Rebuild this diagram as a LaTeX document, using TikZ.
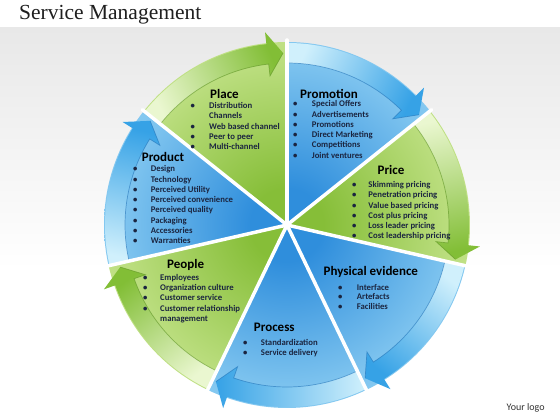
\documentclass[tikz,border=0pt]{standalone}
\usepackage{fontspec}
\newfontfamily\carl{Carlito}
\newfontfamily\ttlserif{Liberation Serif}
\definecolor{gIn}{HTML}{86BE38}
\definecolor{gOut}{HTML}{DDF2AC}
\definecolor{bIn}{HTML}{2F8EDC}
\definecolor{bOut}{HTML}{B0E6FB}
\colorlet{gMid}{gIn!40!gOut}
\colorlet{bMid}{bIn!40!bOut}
\definecolor{gHead}{HTML}{82BE36}
\definecolor{gTail}{HTML}{EAF7D0}
\definecolor{bHead}{HTML}{36A2E6}
\definecolor{bTail}{HTML}{D0F0FC}
\definecolor{gLine}{HTML}{5E9424}
\definecolor{bLine}{HTML}{2474B8}
\definecolor{itemcol}{HTML}{1B2540}
\pgfdeclareradialshading{grad}{\pgfpoint{0bp}{0bp}}{color(0bp)=(gIn); color(5bp)=(gIn); color(22bp)=(gMid); color(42bp)=(gOut); color(50bp)=(gOut)}
\pgfdeclareradialshading{brad}{\pgfpoint{0bp}{0bp}}{color(0bp)=(bIn); color(5bp)=(bIn); color(22bp)=(bMid); color(42bp)=(bOut); color(50bp)=(bOut)}
\newcommand\bul[1]{\makebox[#1][l]{\textbullet}}
\tikzset{
  ttl/.style={font=\carl\bfseries\fontsize{13}{15}\selectfont, text=black, inner sep=0pt, anchor=base},
  itm/.style={font=\carl\bfseries\fontsize{8.7}{10.4}\selectfont, text=itemcol, inner sep=0pt, anchor=base west},
  sepline/.style={white, line width=3.5pt, line cap=round},
}
\begin{document}
\begin{tikzpicture}[x=1pt,y=1pt]
\useasboundingbox (0,0) rectangle (560,420);
\fill[white] (0,0) rectangle (560,420);
\shade[top color=black!9, bottom color=white] (0,150) rectangle (560,392);

\begin{scope}[shift={(287,195)}]
\foreach \s/\kk in {141.43/g, 90/b, 38.57/g, -12.86/b, -64.29/b, -115.71/g, -167.14/b}{
  \pgfmathsetmacro\e{\s-51.43}
  \pgfmathsetmacro\hb{\e+6.5}
  \pgfmathsetmacro\tp{\e+1.3}
  \pgfmathsetmacro\sa{(\s+\e)/2-180}
  \begin{scope}
    \clip (0,0) -- (\s:183) arc[start angle=\s, end angle=\e, radius=183] -- cycle;
    \shade[shading=\kk rad] (0,0) circle (183);
  \end{scope}
  \shade[top color=\kk Head, bottom color=\kk Tail, shading angle=\sa]
    (\s:182) arc[start angle=\s, end angle=\hb, radius=182] -- (\hb:194) -- (\tp:172) -- (\hb:150) -- (\hb:162) arc[start angle=\hb, end angle=\s, radius=162] -- cycle;
  \draw[\kk Line, line width=0.7pt, opacity=0.6] (\s:162) arc[start angle=\s, end angle=\hb, radius=162] -- (\hb:150) -- (\tp:172);
}
\foreach \a in {141.43, 90, 38.57, -12.86, -64.29, -115.71, -167.14}
  \draw[sepline] (0,0) -- (\a:185);
\end{scope}

% titles
\node[anchor=base west, inner sep=0pt, font=\ttlserif\fontsize{21.5}{25}\selectfont, text=black!88] (title) at (19,400.5) {Service Management};
\node[anchor=base west, inner sep=0pt, font=\carl\fontsize{10}{12}\selectfont, text=black!80] (logo) at (506.5,9.5) {Your logo};

\node[ttl] (tplace) at (224.5,321.8) {Place};
\node[ttl] (tpromo) at (329,321.8) {Promotion};
\node[ttl] (tprice) at (391,245.1) {Price};
\node[ttl] (tprod) at (163,258.8) {Product};
\node[ttl] (tpeople) at (185.7,151.8) {People};
\node[ttl] (tproc) at (274.3,88.8) {Process};
\node[ttl] (tphys) at (370.8,144.1) {Physical evidence};

\foreach \f/\txt [count=\i] in {1/Distribution, 0/Channels, 1/Web based channel, 1/Peer to peer, 1/Multi-channel}
  \node[itm] (place\i) at (190.5,{420-106-2.5-(\i-1)*10.3}) {\ifnum\f=1 \bul{18.5pt}\else\hspace*{18.5pt}\fi\txt};
\foreach \txt [count=\i] in {Special Offers, Advertisements, Promotions, Direct Marketing, Competitions, Joint ventures}
  \node[itm] (promo\i) at (292.8,{420-104.3-2.5-(\i-1)*10.3}) {\bul{18.9pt}\txt};
\foreach \txt [count=\i] in {Skimming pricing, Penetration pricing, Value based pricing, Cost plus pricing, Loss leader pricing, Cost leadership pricing}
  \node[itm] (price\i) at (351.8,{420-185-2.5-(\i-1)*10.3}) {\bul{16.5pt}\txt};
\foreach \txt [count=\i] in {Design, Technology, Perceived Utility, Perceived convenience, Perceived quality, Packaging, Accessories, Warranties}
  \node[itm] (prod\i) at (132.8,{420-169.3-2.5-(\i-1)*10.25}) {\bul{17.9pt}\txt};
\foreach \f/\txt [count=\i] in {1/Employees, 1/Organization culture, 1/Customer service, 1/Customer relationship, 0/management}
  \node[itm] (people\i) at (142.8,{420-277.7-2.5-(\i-1)*10.3}) {\ifnum\f=1 \bul{17.2pt}\else\hspace*{17.2pt}\fi\txt};
\foreach \txt [count=\i] in {Standardization, Service delivery}
  \node[itm] (proc\i) at (242.8,{420-342.7-2.5-(\i-1)*10}) {\bul{17.9pt}\txt};
\foreach \txt [count=\i] in {Interface, Artefacts, Facilities}
  \node[itm] (phys\i) at (337.8,{420-287.7-2.5-(\i-1)*9.8}) {\bul{18.9pt}\txt};
\end{tikzpicture}
\end{document}
